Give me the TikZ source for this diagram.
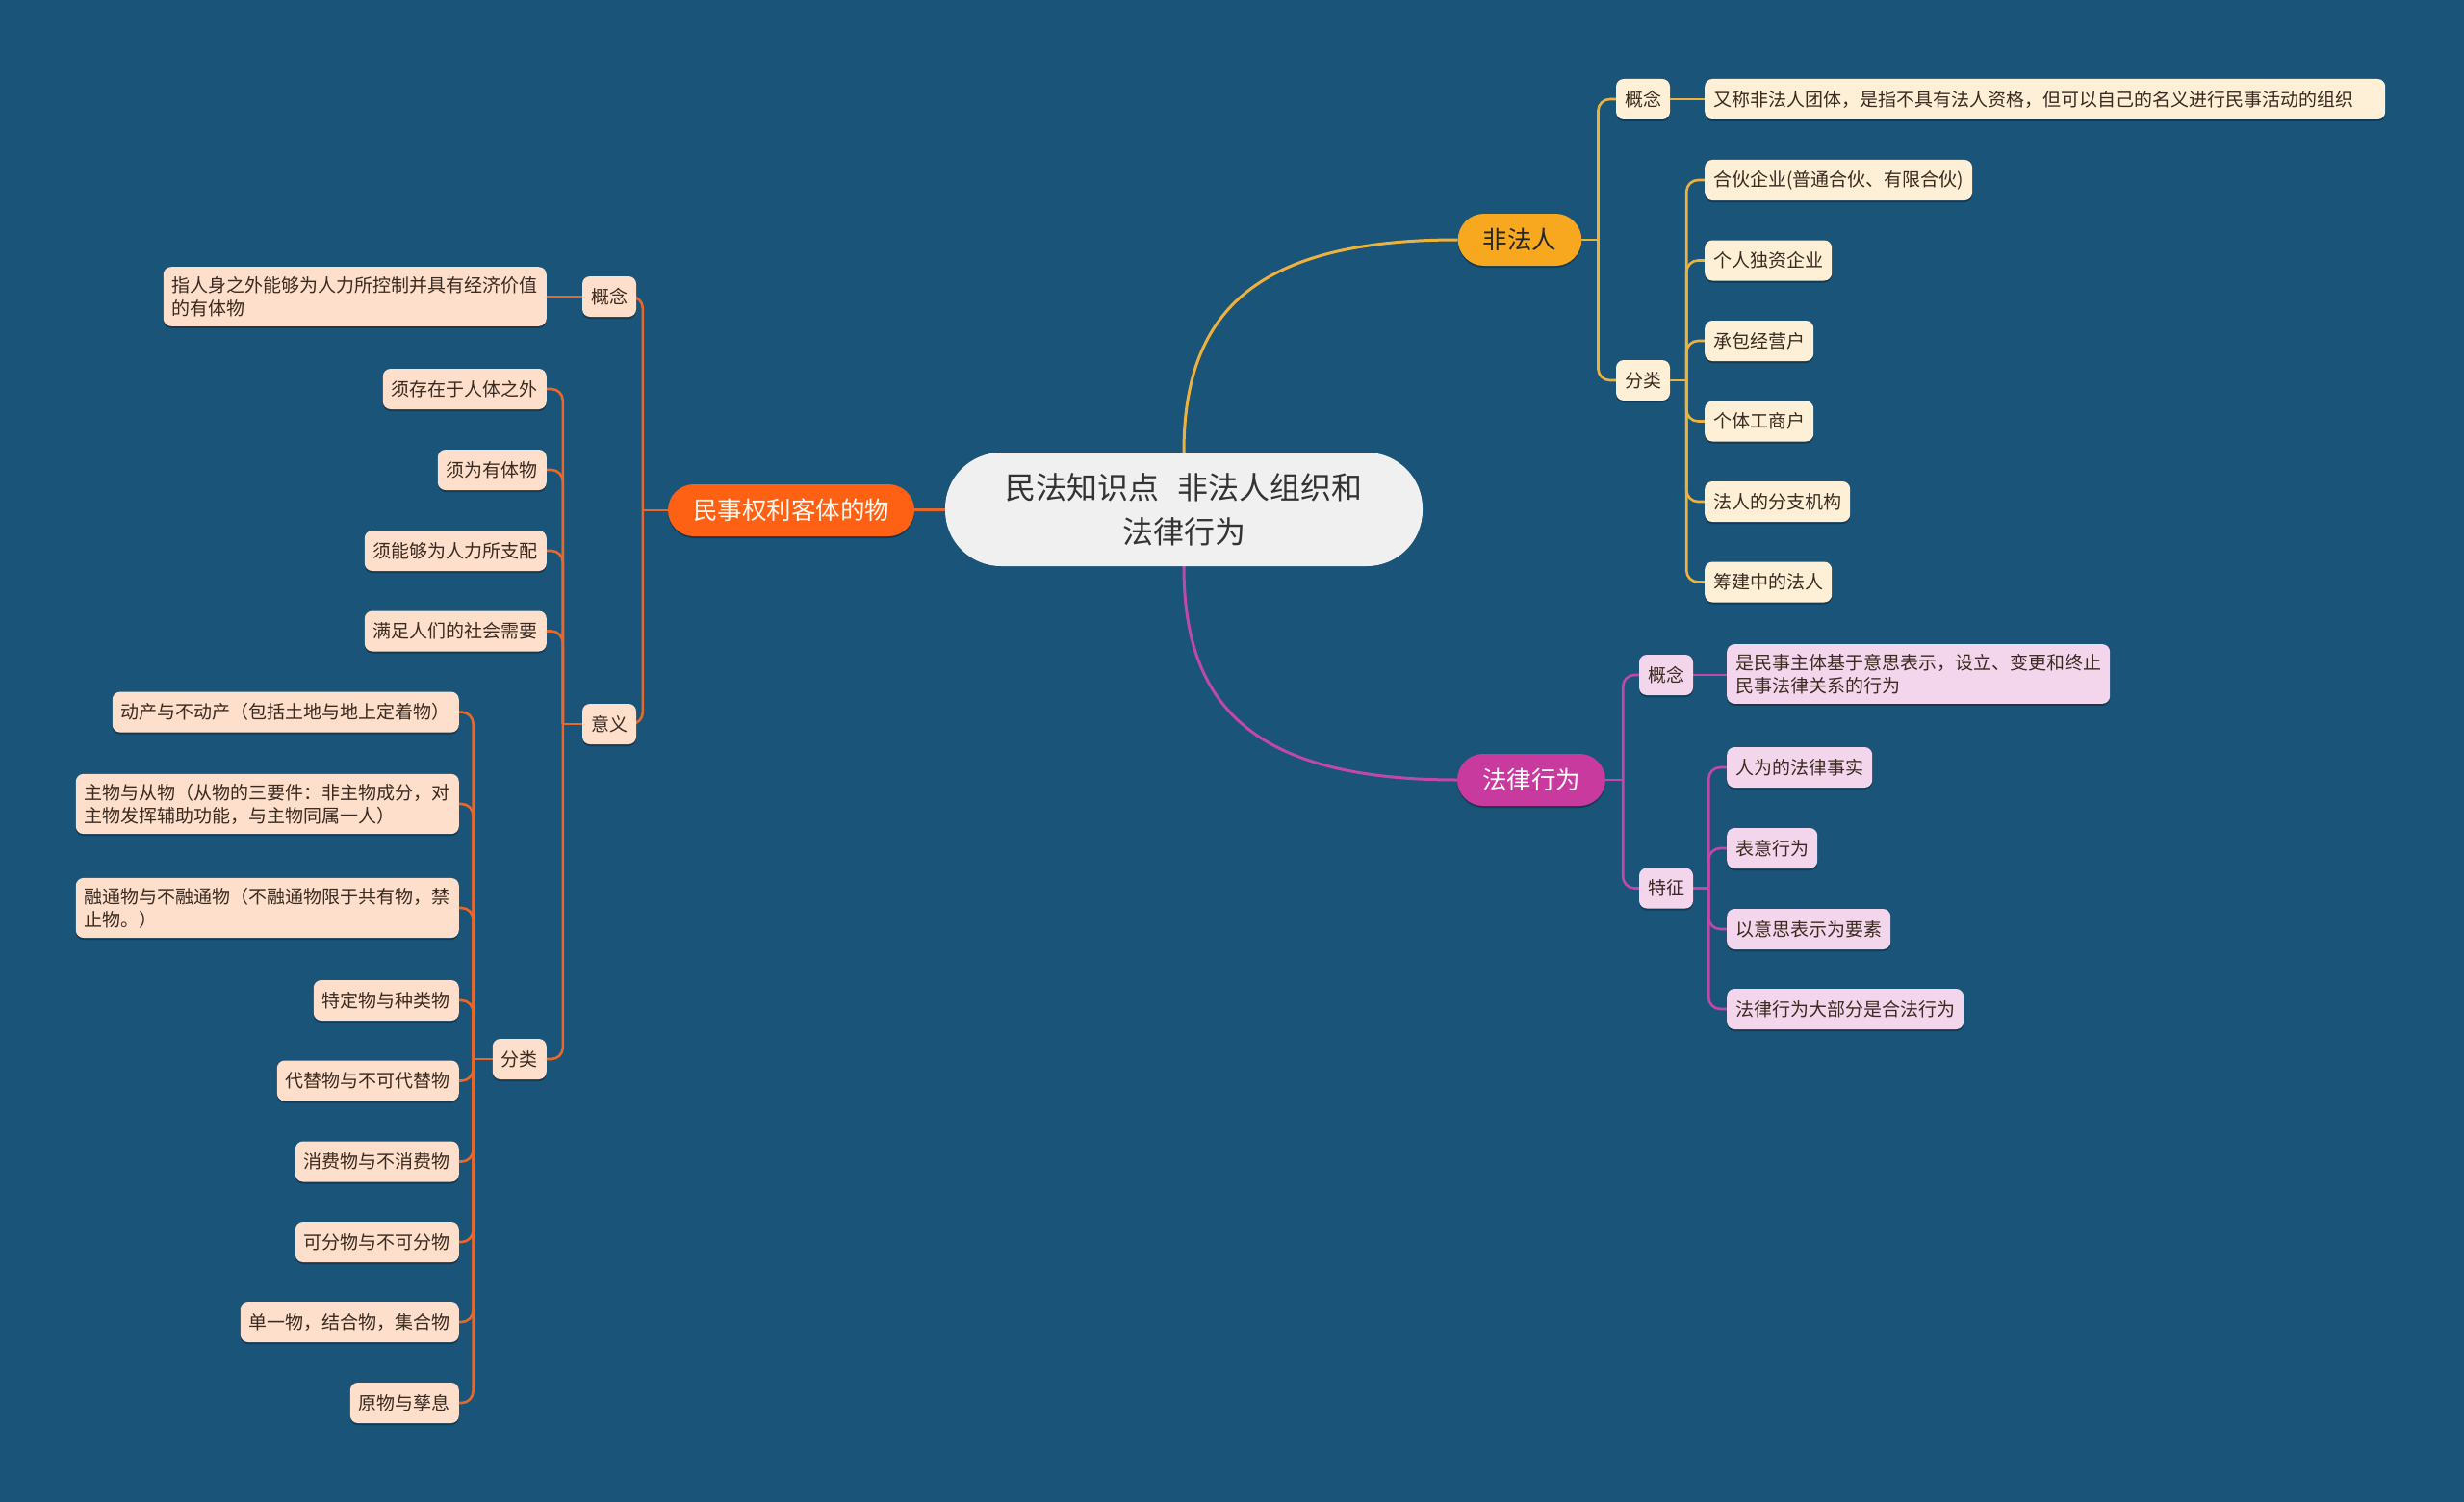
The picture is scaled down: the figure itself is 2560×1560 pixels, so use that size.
\documentclass[tikz,border=0pt]{standalone}
\usepackage{fontspec}
\setmainfont{Noto Sans CJK SC}
\usetikzlibrary{shadows}
\pgfdeclarelayer{back}
\pgfdeclarelayer{bg}
\pgfsetlayers{back,bg,main}
\definecolor{bgc}{HTML}{1A5479}
\definecolor{ctrfill}{HTML}{F0F0F0}
\definecolor{ctrtext}{HTML}{333333}
\definecolor{oMain}{HTML}{FF6114}
\definecolor{oLine}{HTML}{E8672A}
\definecolor{oLeaf}{HTML}{FDDFCB}
\definecolor{yMain}{HTML}{F8A81E}
\definecolor{yLine}{HTML}{EDB23E}
\definecolor{yLeaf}{HTML}{FEF0D6}
\definecolor{mMain}{HTML}{C93A9E}
\definecolor{mLine}{HTML}{BE49AA}
\definecolor{mLeaf}{HTML}{F4D6EC}
\definecolor{leaftext}{HTML}{3A2A20}
\begin{document}
\begin{tikzpicture}[x=1pt,y=-1pt,
  shd/.style={drop shadow={shadow xshift=0pt,shadow yshift=-2pt,opacity=0.3,fill=black}},
  ctr/.style={fill=ctrfill,text=ctrtext,rounded corners=58pt,minimum width=496pt,minimum height=118pt,
    align=center,font=\fontsize{32}{46}\selectfont,inner sep=0pt},
  mainbr/.style={rounded corners=27pt,minimum height=54pt,inner xsep=26pt,inner ysep=0pt,
    font=\fontsize{25.5}{28}\selectfont,shd},
  mainO/.style={mainbr,fill=oMain,text=white!95!orange},
  mainY/.style={mainbr,fill=yMain,text=black!85},
  mainM/.style={mainbr,fill=mMain,text=white},
  leaf/.style={rounded corners=8pt,minimum height=42pt,inner xsep=9pt,inner ysep=10pt,
    font=\fontsize{19}{24}\selectfont,text=leaftext,align=left,shd},
  leafO/.style={leaf,fill=oLeaf},
  leafY/.style={leaf,fill=yLeaf},
  leafM/.style={leaf,fill=mLeaf},
  lnO/.style={draw=oLine,line width=2.6pt},
  lnY/.style={draw=yLine,line width=2.6pt},
  lnM/.style={draw=mLine,line width=2.6pt},
  rc/.style={rounded corners=12pt}
]
\useasboundingbox (0,0) rectangle (2560,1560);
\begin{pgfonlayer}{back}
\fill[bgc] (0,0) rectangle (2560,1560);
\end{pgfonlayer}

% center
\node[ctr] (c) at (1230,529) {民法知识点\hspace{0.6em}非法人组织和\\法律行为};

% yellow branch
\node[mainY] (nf) at (1579,249) {非法人};
\node[leafY] (nfgn) at (1707,103) {概念};
\node[leafY,anchor=west,text width=689pt] (nfgnt) at (1771,103) {又称非法人团体，是指不具有法人资格，但可以自己的名义进行民事活动的组织};
\node[leafY] (nffl) at (1707,395) {分类};
\node[leafY,anchor=west] (nf1) at (1771,187) {合伙企业(普通合伙、有限合伙)};
\node[leafY,anchor=west] (nf2) at (1771,270.5) {个人独资企业};
\node[leafY,anchor=west] (nf3) at (1771,354) {承包经营户};
\node[leafY,anchor=west] (nf4) at (1771,437.5) {个体工商户};
\node[leafY,anchor=west] (nf5) at (1771,521) {法人的分支机构};
\node[leafY,anchor=west] (nf6) at (1771,604.5) {筹建中的法人};

% magenta branch
\node[mainM] (fl) at (1591,810) {法律行为};
\node[leafM] (flgn) at (1731,701) {概念};
\node[leafM,anchor=west] (flgnt) at (1794,700) {是民事主体基于意思表示，设立、变更和终止\\民事法律关系的行为};
\node[leafM] (fltz) at (1731,922.5) {特征};
\node[leafM,anchor=west] (fl1) at (1794,797) {人为的法律事实};
\node[leafM,anchor=west] (fl2) at (1794,881) {表意行为};
\node[leafM,anchor=west] (fl3) at (1794,965) {以意思表示为要素};
\node[leafM,anchor=west] (fl4) at (1794,1048) {法律行为大部分是合法行为};

% orange branch
\node[mainO] (ms) at (822,530) {民事权利客体的物};
\node[leafO] (msgn) at (633,308) {概念};
\node[leafO,anchor=east] (msgnt) at (568,308) {指人身之外能够为人力所控制并具有经济价值\\的有体物};
\node[leafO] (msyy) at (633,752) {意义};
\node[leafO,anchor=east] (yy1) at (568,404) {须存在于人体之外};
\node[leafO,anchor=east] (yy2) at (568,488) {须为有体物};
\node[leafO,anchor=east] (yy3) at (568,572) {须能够为人力所支配};
\node[leafO,anchor=east] (yy4) at (568,655.5) {满足人们的社会需要};
\node[leafO,anchor=east] (mfl) at (568,1100) {分类};
\node[leafO,anchor=east] (fa1) at (477,739.6) {动产与不动产（包括土地与地上定着物）};
\node[leafO,anchor=east] (fa2) at (477,835) {主物与从物（从物的三要件：非主物成分，对\\主物发挥辅助功能，与主物同属一人）};
\node[leafO,anchor=east] (fa3) at (477,943) {融通物与不融通物（不融通物限于共有物，禁\\止物。）};
\node[leafO,anchor=east] (fa4) at (477,1039) {特定物与种类物};
\node[leafO,anchor=east] (fa5) at (477,1122.5) {代替物与不可代替物};
\node[leafO,anchor=east] (fa6) at (477,1206.5) {消费物与不消费物};
\node[leafO,anchor=east] (fa7) at (477,1290) {可分物与不可分物};
\node[leafO,anchor=east] (fa8) at (477,1373) {单一物，结合物，集合物};
\node[leafO,anchor=east] (fa9) at (477,1457) {原物与孳息};

\begin{pgfonlayer}{bg}
% center connectors
\draw[lnO,line width=3pt] (c.center) -- (ms.center);
\draw[lnY,line width=3pt] (c.north) .. controls ([yshift=142pt]c.north) and ([xshift=-215pt]nf.west) .. (nf.west);
\draw[lnM,line width=3pt] (c.south) .. controls ([yshift=-141pt]c.south) and ([xshift=-217pt]fl.west) .. (fl.west);
% yellow
\draw[lnY] (nf.east) -- ++(17,0) coordinate (nfj);
\foreach \n in {nfgn,nffl} \draw[lnY,rc] (nfj) |- (\n.west);
\draw[lnY] (nfgn.east) -- (nfgnt.west);
\draw[lnY] (nffl.east) -- ++(17,0) coordinate (nfflj);
\foreach \n in {nf1,nf2,nf3,nf4,nf5,nf6} \draw[lnY,rc] (nfflj) |- (\n.west);
% magenta
\draw[lnM] (fl.east) -- ++(18,0) coordinate (flj);
\foreach \n in {flgn,fltz} \draw[lnM,rc] (flj) |- (\n.west);
\draw[lnM] (flgn.east) -- (flgn.east -| flgnt.west);
\draw[lnM] (fltz.east) -- ++(16,0) coordinate (fltzj);
\foreach \n in {fl1,fl2,fl3,fl4} \draw[lnM,rc] (fltzj) |- (\n.west);
% orange
\draw[lnO] (ms.west) -- ++(-26,0) coordinate (msj);
\foreach \n in {msgn,msyy} \draw[lnO,rc] (msj) |- (\n.east);
\draw[lnO] (msgn.west) -- (msgnt.east);
\draw[lnO] (msyy.west) -- ++(-20,0) coordinate (yyj);
\foreach \n in {yy1,yy2,yy3,yy4,mfl} \draw[lnO,rc] (yyj) |- (\n.east);
\draw[lnO] (mfl.west) -- ++(-20,0) coordinate (mflj);
\foreach \n in {fa1,fa2,fa3,fa4,fa5,fa6,fa7,fa8,fa9} \draw[lnO,rc] (mflj) |- (\n.east);
\end{pgfonlayer}
\end{tikzpicture}
\end{document}
